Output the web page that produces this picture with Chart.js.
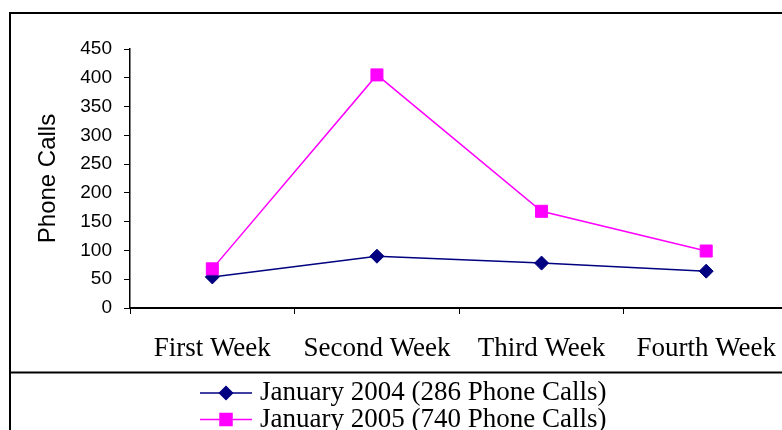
<!DOCTYPE html>
<html>
<head>
<meta charset="utf-8">
<script src="https://cdn.jsdelivr.net/npm/chart.js@4.4.1/dist/chart.umd.min.js"></script>
<style>
  html, body { margin: 0; padding: 0; background: #fff; overflow: hidden; }
  #wrap { width: 798px; height: 430px; }
</style>
</head>
<body>
<div id="wrap"><canvas id="callsChart" width="798" height="430"></canvas></div>
<script>
const weeks = ["First Week", "Second Week", "Third Week", "Fourth Week"];
const calls2004 = [54, 90, 78, 64];
const calls2005 = [68, 405, 168, 99];
const seriesNames = ["January 2004 (286 Phone Calls)", "January 2005 (740 Phone Calls)"];
const yTicks = [0, 50, 100, 150, 200, 250, 300, 350, 400, 450];

// outer frame + line above the legend
const framePlugin = {
  id: "frame",
  beforeDraw(chart) {
    const ctx = chart.ctx;
    ctx.save();
    ctx.fillStyle = "#fff";
    ctx.fillRect(0, 0, chart.width, chart.height);
    ctx.strokeStyle = "#000";
    ctx.lineWidth = 2;
    ctx.beginPath();
    ctx.moveTo(10, chart.height);
    ctx.lineTo(10, 13);
    ctx.lineTo(chart.width, 13);
    ctx.moveTo(10, 372.5);
    ctx.lineTo(chart.width, 372.5);
    ctx.stroke();
    ctx.restore();
  },
};

// legend stacked in two rows, line through the marker
const legendPlugin = {
  id: "stackedLegend",
  afterDraw(chart) {
    const ctx = chart.ctx;
    ctx.save();
    chart.data.datasets.forEach((ds, i) => {
      const y = 393 + i * 26.5;
      ctx.strokeStyle = ds.borderColor;
      ctx.lineWidth = 1.5;
      ctx.beginPath();
      ctx.moveTo(200, y);
      ctx.lineTo(252, y);
      ctx.stroke();
      ctx.fillStyle = ds.backgroundColor;
      Chart.helpers.drawPoint(ctx, {
        pointStyle: ds.pointStyle,
        radius: ds.pointStyle === "rect" ? 8.5 : 6.5,
        rotation: 0,
        borderWidth: 1,
      }, 226, y);
      ctx.fillStyle = "#000";
      ctx.font = "27px 'Liberation Serif'";
      ctx.textBaseline = "middle";
      ctx.textAlign = "left";
      ctx.fillText(ds.label, 260, y);
    });
    ctx.restore();
  },
};

const ctx = document.getElementById("callsChart").getContext("2d");
new Chart(ctx, {
  type: "line",
  data: {
    labels: weeks,
    datasets: [
      {
        label: seriesNames[0],
        data: calls2004,
        borderColor: "#000080",
        backgroundColor: "#000080",
        borderWidth: 1.5,
        pointStyle: "rectRot",
        pointRadius: 7,
        pointBorderWidth: 1,
        tension: 0,
        order: 1,
      },
      {
        label: seriesNames[1],
        data: calls2005,
        borderColor: "#FF00FF",
        backgroundColor: "#FF00FF",
        borderWidth: 1.5,
        pointStyle: "rect",
        pointRadius: 8.5,
        pointBorderWidth: 1,
        tension: 0,
        order: 0,
      },
    ],
  },
  options: {
    responsive: false,
    animation: false,
    layout: { padding: { left: 18, top: 49, right: 2, bottom: 45.6 } },
    plugins: {
      legend: { display: false },
      tooltip: { enabled: false },
    },
    scales: {
      x: {
        type: "category",
        offset: true,
        grid: { offset: true, drawOnChartArea: false, tickLength: 6, color: "#000" },
        border: { color: "#000", width: 2 },
        ticks: {
          color: "#000",
          padding: 19,
          maxRotation: 0,
          autoSkip: false,
          font: { family: "'Liberation Serif'", size: 27 },
        },
      },
      y: {
        min: 0,
        max: 450,
        afterBuildTicks: (axis) => {
          axis.ticks = yTicks.map((v) => ({ value: v }));
        },
        grid: { drawOnChartArea: false, tickLength: 6, color: "#000" },
        border: { color: "#000", width: 1.5 },
        ticks: {
          color: "#000",
          padding: 12,
          font: { family: "'Liberation Sans'", size: 19 },
        },
        title: {
          display: true,
          text: "Phone Calls",
          color: "#000",
          padding: { top: 16, bottom: 5.5 },
          font: { family: "'Liberation Sans'", size: 24 },
        },
      },
    },
  },
  plugins: [framePlugin, legendPlugin],
});
</script>
</body>
</html>
